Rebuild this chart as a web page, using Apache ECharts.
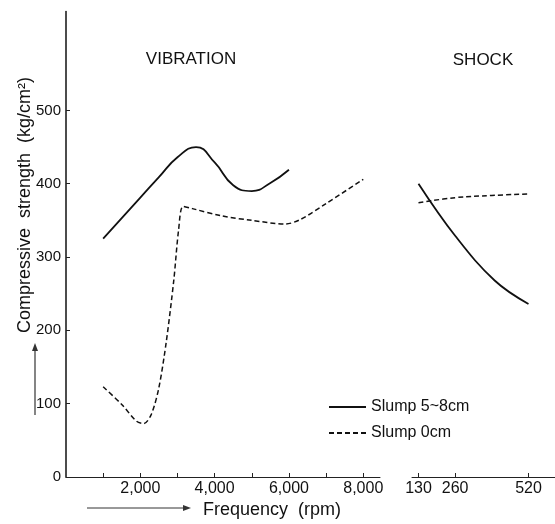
<!DOCTYPE html>
<html><head><meta charset="utf-8">
<script src="https://cdn.jsdelivr.net/npm/echarts@6/dist/echarts.min.js"></script>
<style>html,body{margin:0;padding:0;background:#fff}#c{width:555px;height:524px}</style>
</head><body><div id="c"></div><script>
// Vibration (frequency, rpm) vs compressive strength (kg/cm2)
const vibSolid = [[1000,325],[1500,353],[2000,381],[2500,409],[3000,436],[3500,450],[4000,429],[4500,398],[5000,390],[5500,401],[6000,419]];
const vibDashed = [[1000,123],[1500,99],[1900,76],[2100,73],[2300,86],[2500,122],[2700,185],[2900,268],[3030,337],[3150,369],[3400,366],[4200,356],[5000,350],[5900,345],[6300,351],[7000,373],[8000,406]];
// Shock vs compressive strength
const shockSolid = [[130,400],[260,329],[400,268],[520,236]];
const shockDashed = [[130,374],[260,381],[390,384],[520,386]];
const vibTicks = [1000,2000,3000,4000,5000,6000,7000,8000];
const vibLabels = [2000,4000,6000,8000];
const shockTicks = [130,260,520];
const yTicks = [0,100,200,300,400,500];
const seriesNames = ['Slump 5~8cm','Slump 0cm'];

const FONT = 'Liberation Sans, Arial, sans-serif';
const chart = echarts.init(document.getElementById('c'), null, {renderer:'canvas'});
const yMax = 635;
const gridTop = 11.4, gridBottom = 47;
const solidStyle = {color:'#111', width:1.8, type:'solid'};
const dashStyle = {color:'#111', width:1.5, type:[5,3]};
chart.setOption({
  animation:false,
  backgroundColor:'#fff',
  textStyle:{fontFamily:FONT},
  grid:[
    {left:66, top:gridTop, width:314, bottom:gridBottom},
    {left:412, top:gridTop, width:143, bottom:gridBottom}
  ],
  xAxis:[
    {type:'value', gridIndex:0, min:0, max:8450,
     axisLine:{lineStyle:{color:'#222', width:1}},
     axisTick:{inside:true, length:4, customValues:vibTicks, lineStyle:{color:'#222'}},
     axisLabel:{customValues:vibLabels, formatter:v=>v.toLocaleString('en-US'), fontSize:16, color:'#111', margin:4, fontFamily:FONT},
     splitLine:{show:false}},
    {type:'value', gridIndex:1, min:107, max:614,
     axisLine:{lineStyle:{color:'#222', width:1}},
     axisTick:{inside:true, length:4, customValues:shockTicks, lineStyle:{color:'#222'}},
     axisLabel:{customValues:shockTicks, fontSize:16, color:'#111', margin:4, fontFamily:FONT},
     splitLine:{show:false}}
  ],
  yAxis:[
    {type:'value', gridIndex:0, min:0, max:yMax,
     axisLine:{show:true, lineStyle:{color:'#111', width:1.5}},
     axisTick:{show:true, inside:true, length:4, customValues:yTicks, lineStyle:{color:'#222'}},
     axisLabel:{customValues:yTicks, fontSize:15, color:'#111', margin:5, fontFamily:FONT},
     splitLine:{show:false}},
    {type:'value', gridIndex:1, min:0, max:yMax, show:false}
  ],
  legend:{
    orient:'vertical', left:323, top:394, itemWidth:37, itemHeight:14, itemGap:10,
    data:seriesNames,
    itemStyle:{opacity:0},
    textStyle:{fontSize:16, color:'#111', fontFamily:FONT}
  },
  graphic:[
    {type:'text', x:191, y:59, style:{text:'VIBRATION', font:'17px '+FONT, fill:'#111', textAlign:'center', textVerticalAlign:'middle'}},
    {type:'text', x:483, y:60, style:{text:'SHOCK', font:'17px '+FONT, fill:'#111', textAlign:'center', textVerticalAlign:'middle'}},
    {type:'text', x:25, y:205, rotation:Math.PI/2, style:{text:'Compressive  strength  (kg/cm²)', font:'18px '+FONT, fill:'#111', textAlign:'center', textVerticalAlign:'middle'}},
    {type:'text', x:272, y:510, style:{text:'Frequency  (rpm)', font:'18px '+FONT, fill:'#111', textAlign:'center', textVerticalAlign:'middle'}},
    {type:'line', shape:{x1:87, y1:508, x2:184, y2:508}, style:{stroke:'#333', lineWidth:1}},
    {type:'polygon', shape:{points:[[191,508],[183,505],[183,511]]}, style:{fill:'#333'}},
    {type:'line', shape:{x1:35, y1:415, x2:35, y2:350}, style:{stroke:'#333', lineWidth:1.2}},
    {type:'polygon', shape:{points:[[35,343],[32,351],[38,351]]}, style:{fill:'#333'}}
  ],
  series:[
    {name:seriesNames[0], type:'line', xAxisIndex:0, yAxisIndex:0, data:vibSolid, smooth:0.5, symbol:'none', lineStyle:solidStyle, itemStyle:{color:'#111'}},
    {name:seriesNames[1], type:'line', xAxisIndex:0, yAxisIndex:0, data:vibDashed, smooth:0.3, symbol:'none', lineStyle:dashStyle, itemStyle:{color:'#111'}},
    {name:seriesNames[0], type:'line', xAxisIndex:1, yAxisIndex:1, data:shockSolid, smooth:0.4, symbol:'none', lineStyle:solidStyle, itemStyle:{color:'#111'}},
    {name:seriesNames[1], type:'line', xAxisIndex:1, yAxisIndex:1, data:shockDashed, smooth:0.4, symbol:'none', lineStyle:dashStyle, itemStyle:{color:'#111'}}
  ]
});
</script></body></html>
